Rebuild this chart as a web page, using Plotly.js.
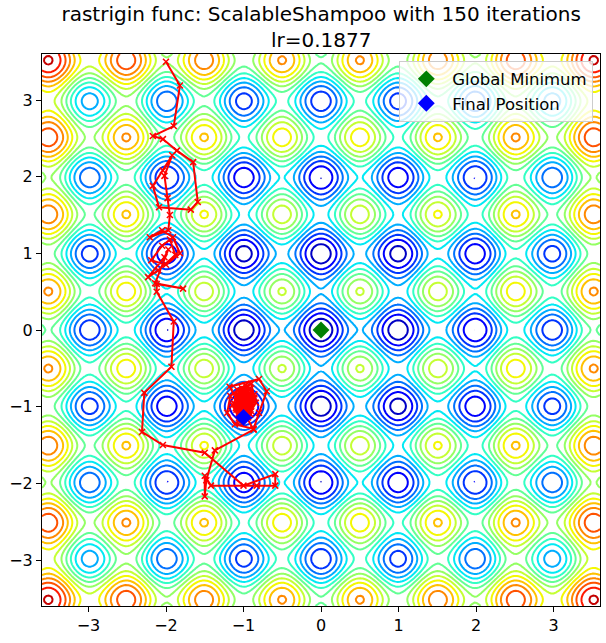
<!DOCTYPE html>
<html><head><meta charset="utf-8">
<script src="https://cdn.plot.ly/plotly-3.0.1.min.js"></script>
<style>html,body{margin:0;padding:0;background:#fff}</style>
</head><body><div id="chart" style="width:606px;height:643px"></div>
<script>
// ---- data ----
const titleText = "rastrigin func: ScalableShampoo with 150 iterations<br>lr=0.1877";
const tickVals = [-3, -2, -1, 0, 1, 2, 3];
const axisRange = [-3.6, 3.6];
const contourStart = 4, contourEnd = 64, contourStep = 4;   // contour levels
const colorMin = 0, colorMax = 68;                           // jet normalisation
const minimumX = [0], minimumY = [0];

// optimizer trajectory (x, y)
const pathX = [
 -2.00,-1.82,-1.90,-2.17,-2.04,-1.86,-1.65,-1.59,-1.68,-2.09,-2.17,-2.04,-1.92,-2.02,-1.98,-1.95,-1.97,
 -2.21,-2.05,-1.91,-1.82,-2.00,-2.19,-2.05,-1.95,-1.88,-2.10,-2.23,-2.02,-1.97,-2.14,-1.78,-2.12,
 -2.12,-1.90,-1.93,-2.28,-2.31,-2.04,-1.50,-1.00,-0.59,-0.59,-0.83,-1.42,-1.50,-1.50,-1.48,-1.37,-0.87,
 -1.18,-0.80,-0.70,-0.80,-0.87,-1.11,-1.21,-1.17,-0.98,-0.86,-0.90,-1.06,-1.14,-1.05,-0.92,-0.84,
 -0.95,-1.09,-1.08,-0.96,-0.88,-0.93,-1.04,-1.07,-0.99,-0.90,-0.91,-1.00,-1.05,-1.01,-0.93,-0.89,
 -0.97,-1.03,-1.02,-0.95,-0.92,-0.96,-1.01,-0.99,-0.94,-0.95,-1.00,-0.98,-0.93,-0.97,-1.01,-1.06,
 -1.10,-1.02,-0.90,-0.86,-0.94,-1.05,-1.12,-1.08,-0.97,-0.88,-0.91,-1.00,-1.09,-1.04,-0.95,-0.90,
 -0.96,-1.03,-1.07,-1.00,-0.92,-0.94,-1.02,-1.06,-0.99,-0.93,-0.97,-1.04,-1.08,-1.01,-0.95,-0.98,
 -1.05,-1.10,-1.03,-0.96,-0.99,-1.06,-1.02,-0.97,-1.00,-1.04,-0.98,-1.00,-1.03,-0.99,-1.01,-1.00
];
const pathY = [
  3.50, 3.19, 2.66, 2.53, 2.49, 2.34, 2.19, 1.67, 1.57, 1.60, 1.88, 2.08, 2.28, 2.01, 1.72, 1.50, 1.30,
  1.21, 1.30, 1.21, 1.00, 0.85, 0.91, 1.10, 1.18, 0.98, 0.78, 0.69, 0.95, 1.05, 0.61, 0.54, 0.60,
  0.50, 0.11,-0.48,-0.82,-1.33,-1.50,-1.60,-2.03,-1.88,-2.03,-2.03,-2.03,-1.90,-2.17,-1.96,-1.57,-1.30,
 -0.74,-0.64,-0.80,-1.08,-1.29,-1.23,-1.08,-0.86,-0.72,-0.84,-1.06,-1.15,-0.98,-0.80,-0.76,-0.95,
 -1.12,-1.04,-0.86,-0.78,-0.90,-1.08,-1.06,-0.92,-0.82,-0.86,-1.00,-1.06,-0.96,-0.85,-0.83,-0.95,
 -1.03,-0.99,-0.88,-0.86,-0.94,-1.01,-0.97,-0.89,-0.90,-0.98,-0.95,-0.88,-0.92,-0.99,-1.10,-1.18,
 -1.02,-0.76,-0.70,-0.88,-1.14,-1.20,-0.96,-0.78,-0.72,-0.92,-1.10,-1.16,-1.00,-0.82,-0.74,-0.97,
 -1.12,-1.05,-0.86,-0.77,-0.90,-1.07,-1.13,-0.93,-0.80,-0.85,-1.02,-1.09,-0.94,-0.81,-0.88,-1.05,
 -1.11,-0.98,-0.84,-0.90,-1.04,-0.99,-0.87,-0.95,-1.08,-1.01,-0.92,-1.06,-1.12,-1.09,-1.15,-1.14
];

// ---- contour surface: the Rastrigin function named in the title ----
function rastrigin(x, y) {
  const A = 10;
  return 2 * A + (x * x - A * Math.cos(2 * Math.PI * x)) + (y * y - A * Math.cos(2 * Math.PI * y));
}
const N = 241;
const gx = [], gy = [];
for (let i = 0; i < N; i++) {
  const v = axisRange[0] + (axisRange[1] - axisRange[0]) * i / (N - 1);
  gx.push(v); gy.push(v);
}
const gz = gy.map(y => gx.map(x => rastrigin(x, y)));

// matplotlib "jet"
const jetSeg = {
  r: [[0,0],[0.35,0],[0.66,1],[0.89,1],[1,0.5]],
  g: [[0,0],[0.125,0],[0.375,1],[0.64,1],[0.91,0],[1,0]],
  b: [[0,0.5],[0.11,1],[0.34,1],[0.65,0],[1,0]]
};
function seg(s, t) {
  for (let i = 1; i < s.length; i++) {
    if (t <= s[i][0]) {
      const f = (t - s[i-1][0]) / (s[i][0] - s[i-1][0]);
      return s[i-1][1] + f * (s[i][1] - s[i-1][1]);
    }
  }
  return s[s.length-1][1];
}
function jet(t) {
  return 'rgb(' + Math.round(255*seg(jetSeg.r,t)) + ',' + Math.round(255*seg(jetSeg.g,t)) + ',' + Math.round(255*seg(jetSeg.b,t)) + ')';
}
const cscale = [];
for (let k = 0; k <= 60; k++) {
  const p = k / 60;
  const lvl = contourStart + p * (contourEnd - contourStart);
  cscale.push([p, jet((lvl - colorMin) / (colorMax - colorMin))]);
}

const font = "DejaVu Sans, Liberation Sans, sans-serif";

const traces = [
  {
    type: 'contour', x: gx, y: gy, z: gz,
    autocontour: false,
    contours: {start: contourStart, end: contourEnd, size: contourStep, coloring: 'lines'},
    colorscale: cscale, showscale: false,
    line: {width: 2, smoothing: 0},
    hoverinfo: 'skip', showlegend: false
  },
  {
    type: 'scatter', mode: 'lines+markers', x: pathX, y: pathY,
    line: {color: 'red', width: 2},
    marker: {symbol: 'x-thin', size: 6, color: 'red', line: {color: 'red', width: 1.5}},
    showlegend: false
  },
  {
    type: 'scatter', mode: 'markers', x: minimumX, y: minimumY, name: 'Global Minimum',
    marker: {symbol: 'diamond', size: 13, color: 'green'}
  },
  {
    type: 'scatter', mode: 'markers', x: [pathX[pathX.length-1]], y: [pathY[pathY.length-1]], name: 'Final Position',
    marker: {symbol: 'diamond', size: 13, color: 'blue'}
  }
];

const axisCommon = {
  range: axisRange, tickvals: tickVals, ticks: 'outside', ticklen: 5, tickwidth: 1, tickcolor: 'black',
  showline: true, mirror: true, linecolor: 'black', linewidth: 1,
  showgrid: false, zeroline: false,
  tickfont: {family: font, size: 16, color: 'black'}
};

const layout = {
  width: 606, height: 643,
  margin: {l: 42, r: 6, t: 54, b: 37, pad: 0},
  paper_bgcolor: 'white', plot_bgcolor: 'white',
  title: {text: titleText, font: {family: font, size: 20, color: 'black'},
          x: 0.53, xanchor: 'center', xref: 'container', yref: 'container', y: 0.968, yanchor: 'bottom'},
  xaxis: Object.assign({}, axisCommon),
  yaxis: Object.assign({}, axisCommon),
  legend: {x: 0.988, y: 0.988, xanchor: 'right', yanchor: 'top',
           bgcolor: 'rgba(255,255,255,0.8)', bordercolor: '#cccccc', borderwidth: 1,
           itemwidth: 42, tracegroupgap: 4,
           font: {family: font, size: 16.5, color: 'black'}},
  showlegend: true
};

Plotly.newPlot('chart', traces, layout, {displayModeBar: false, staticPlot: true});
</script>
</body></html>
